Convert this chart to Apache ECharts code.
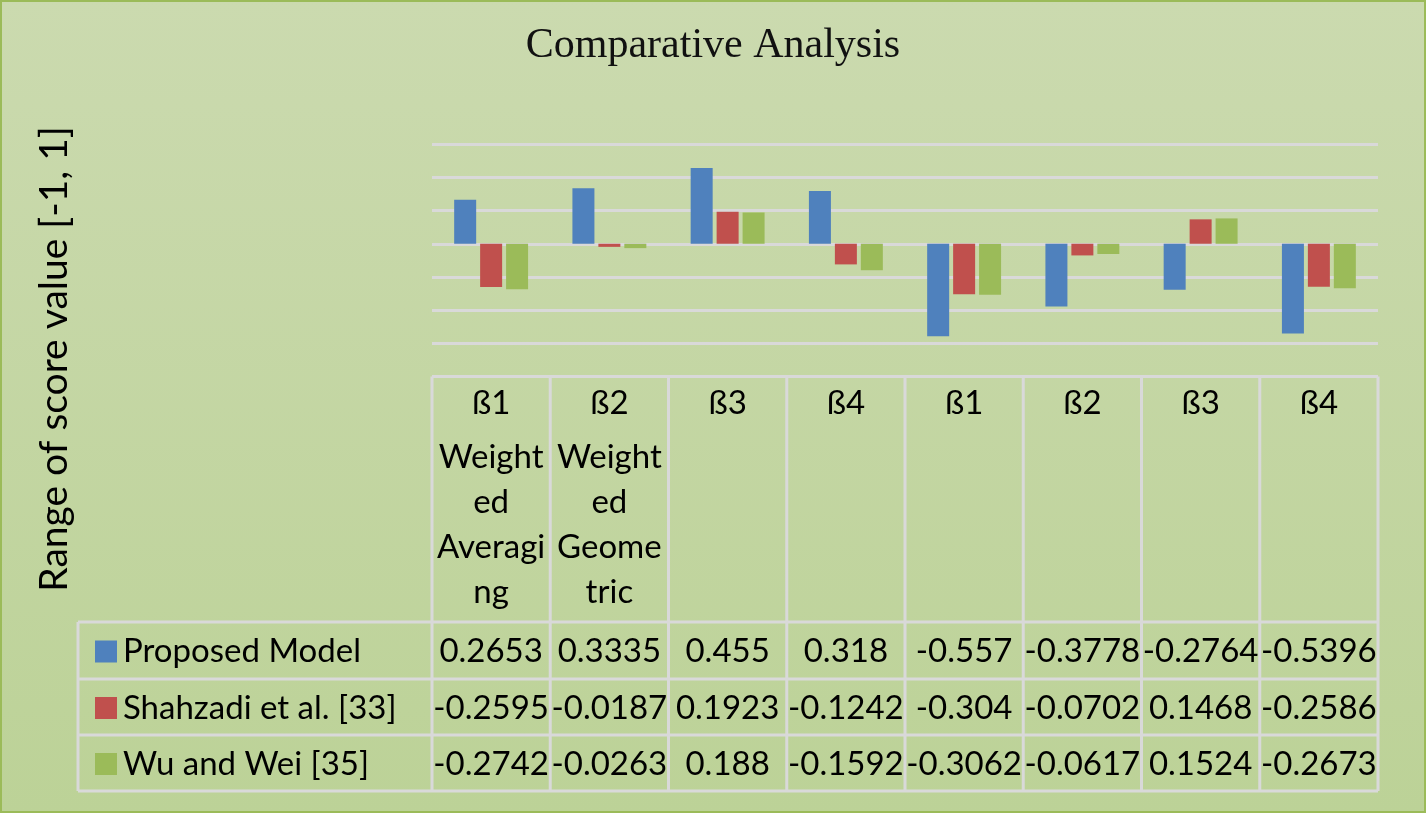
<!DOCTYPE html>
<html>
<head>
<meta charset="utf-8">
<script src="https://cdn.jsdelivr.net/npm/echarts@6/dist/echarts.min.js"></script>
<style>
html,body{margin:0;padding:0;background:#c6d8a6;}
#chart{width:1426px;height:813px;}
</style>
</head>
<body>
<div id="chart"></div>
<script>
// ---- data ----
var categories = ['ß1', 'ß2', 'ß3', 'ß4', 'ß1', 'ß2', 'ß3', 'ß4'];
var categoryNotes = ['Weight\ned\nAveragi\nng', 'Weight\ned\nGeome\ntric', '', '', '', '', '', ''];
var seriesNames = ['Proposed Model', 'Shahzadi et al. [33]', 'Wu and Wei [35]'];
var proposedModel = [0.2653, 0.3335, 0.455, 0.318, -0.557, -0.3778, -0.2764, -0.5396];
var shahzadi = [-0.2595, -0.0187, 0.1923, -0.1242, -0.304, -0.0702, 0.1468, -0.2586];
var wuWei = [-0.2742, -0.0263, 0.188, -0.1592, -0.3062, -0.0617, 0.1524, -0.2673];
var seriesColors = ['#4f81bd', '#c0504d', '#9bbb59'];
var chartTitle = 'Comparative Analysis';
var yAxisTitle = 'Range of score value [-1, 1]';

var allSeries = [proposedModel, shahzadi, wuWei];
var FONT = 'Lato, "Open Sans", sans-serif';
var TABLE_FS = 33;
var lineColor = '#d9d9d9';

var chart = echarts.init(document.getElementById('chart'));

var option = {
  animation: false,
  backgroundColor: {
    type: 'linear', x: 0, y: 0, x2: 0, y2: 1,
    colorStops: [{offset: 0, color: '#cbdaaf'}, {offset: 1, color: '#bcd297'}]
  },
  title: {
    text: chartTitle,
    left: 'center',
    top: 20,
    textStyle: {fontFamily: '"Liberation Serif", "Times New Roman", serif', fontSize: 42, fontWeight: 'normal', color: '#111'}
  },
  grid: {left: 432, right: 48, top: 144, bottom: 469.5, containLabel: false},
  xAxis: {
    type: 'category',
    data: categories,
    axisLine: {show: false},
    axisTick: {show: false},
    axisLabel: {show: false},
    splitLine: {show: false}
  },
  yAxis: {
    type: 'value',
    min: -0.6,
    max: 0.6,
    interval: 0.2,
    axisLine: {show: false},
    axisTick: {show: false},
    axisLabel: {show: false},
    splitLine: {show: true, lineStyle: {color: lineColor, width: 3}}
  },
  series: allSeries.map(function (d, i) {
    return {
      name: seriesNames[i],
      type: 'bar',
      data: d,
      barWidth: 22,
      barGap: '18%',
      itemStyle: {color: seriesColors[i]}
    };
  })
};
chart.setOption(option);

// ---- data table drawn under the plot, aligned to the category axis ----
function buildTable() {
  var c0 = chart.convertToPixel({gridIndex: 0}, [0, 0]);
  var c1 = chart.convertToPixel({gridIndex: 0}, [1, 0]);
  var band = c1[0] - c0[0];
  var x0 = c0[0] - band / 2;
  var xEnd = x0 + band * categories.length;
  var legendLeft = 78;
  var headTop = 376.5;
  var rowTops = [622, 679, 735, 791];
  var g = [];
  function line(x1, y1, x2, y2) {
    g.push({type: 'line', silent: true, z: 10,
      shape: {x1: x1, y1: y1, x2: x2, y2: y2},
      style: {stroke: lineColor, lineWidth: 3}});
  }
  function text(str, x, y, align, lh) {
    g.push({type: 'text', silent: true, z: 11, x: x, y: y,
      style: {text: str, fill: '#000', font: TABLE_FS + 'px ' + FONT,
        align: align, verticalAlign: 'middle', lineHeight: lh || 45}});
  }
  // horizontal lines
  line(x0, headTop, xEnd, headTop);
  rowTops.forEach(function (y) { line(legendLeft, y, xEnd, y); });
  // vertical lines
  for (var k = 0; k <= categories.length; k++) {
    line(x0 + k * band, headTop, x0 + k * band, rowTops[3]);
  }
  line(legendLeft, rowTops[0], legendLeft, rowTops[3]);
  // header cells
  categories.forEach(function (c, i) {
    var cx = x0 + band * (i + 0.5);
    text(c, cx, 403, 'center');
    if (categoryNotes[i]) {
      categoryNotes[i].split('\n').forEach(function (s, j) {
        text(s, cx, 457 + j * 45, 'center');
      });
    }
  });
  // data rows
  allSeries.forEach(function (d, r) {
    var cy = (rowTops[r] + rowTops[r + 1]) / 2 + 1;
    g.push({type: 'rect', silent: true, z: 11,
      shape: {x: 95, y: cy - 11, width: 22, height: 22},
      style: {fill: seriesColors[r]}});
    text(seriesNames[r], 123, cy, 'left');
    d.forEach(function (v, i) {
      text(String(v), x0 + band * (i + 0.5), cy, 'center');
    });
  });
  // y axis title
  g.push({type: 'text', silent: true, z: 11, x: 54, y: 359, rotation: Math.PI / 2,
    style: {text: yAxisTitle, fill: '#000', font: '39px ' + FONT,
      align: 'center', verticalAlign: 'middle'}});
  // outer border
  g.push({type: 'rect', silent: true, z: 20,
    shape: {x: 1, y: 1, width: 1424, height: 811},
    style: {fill: 'none', stroke: '#9bbb59', lineWidth: 2}});
  chart.setOption({graphic: g});
}
buildTable();
</script>
</body>
</html>
